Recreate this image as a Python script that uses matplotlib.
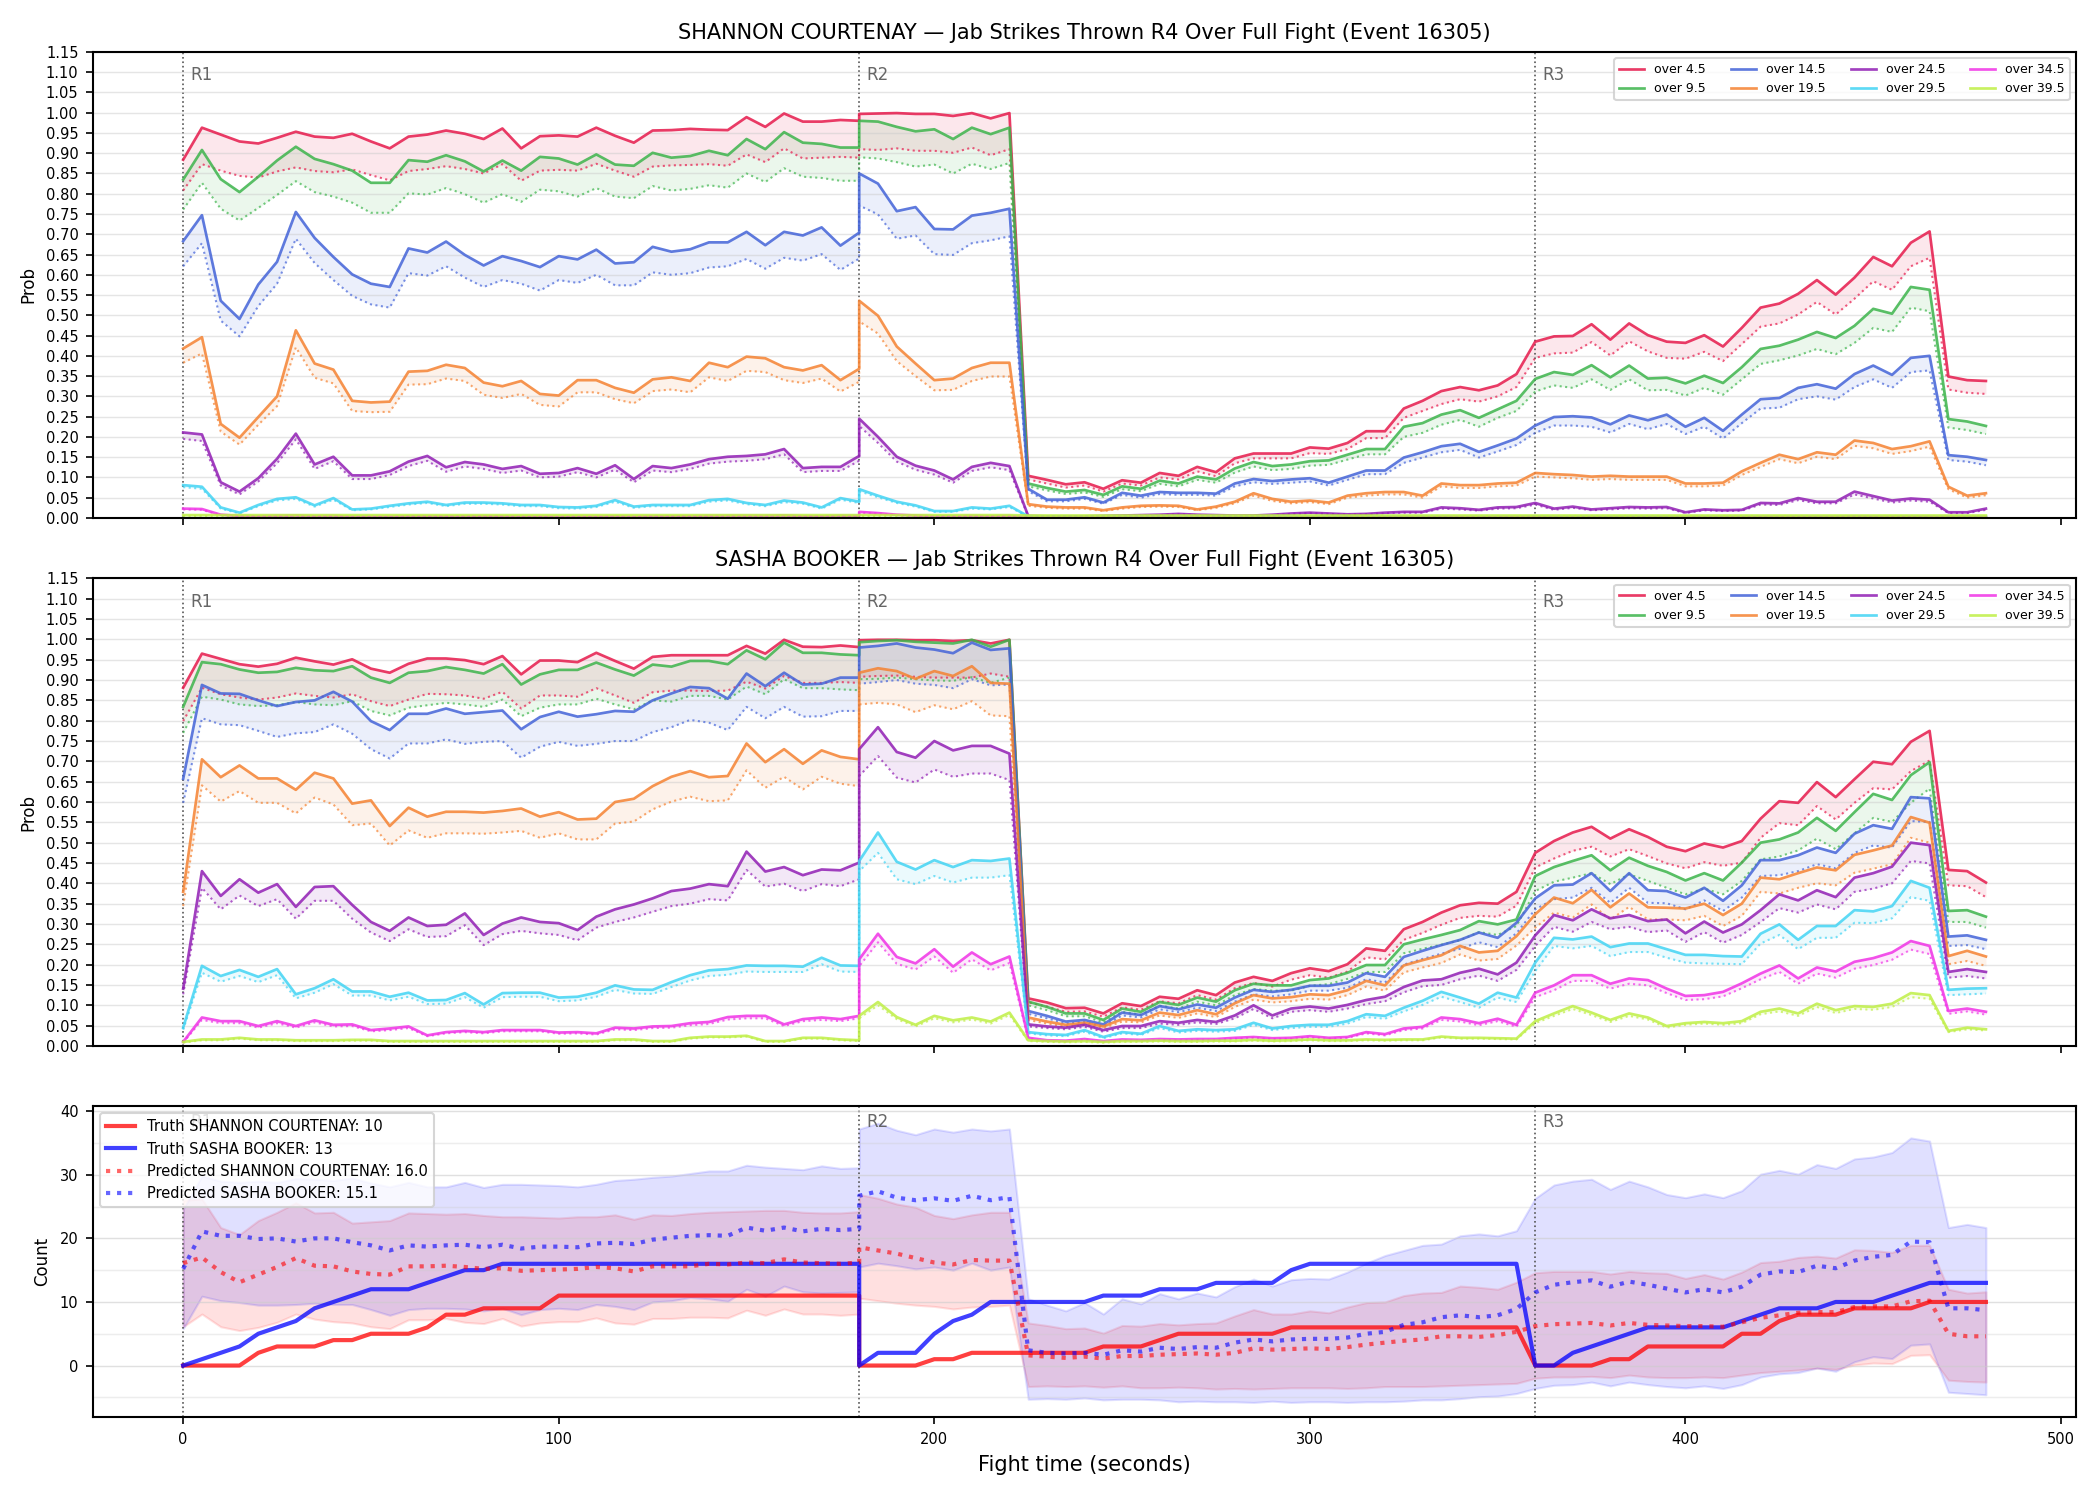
import numpy as np
import matplotlib
matplotlib.use("Agg")
import matplotlib.pyplot as plt
import matplotlib.transforms as mtransforms
from matplotlib.ticker import MultipleLocator

# snapshots every 5s: R1 0-180, R2 180-355, R3 360-480
t = np.concatenate([np.arange(0, 181, 5), np.arange(180, 356, 5), np.arange(360, 481, 5)])

line_labels = ["over 4.5", "over 9.5", "over 14.5", "over 19.5",
               "over 24.5", "over 29.5", "over 34.5", "over 39.5"]
line_colors = ["#e6194b", "#3cb44b", "#4363d8", "#f58231",
               "#911eb4", "#42d4f4", "#f032e6", "#bfef45"]
round_starts = [0, 180, 360]
round_labels = ["R1", "R2", "R3"]

# ---- SHANNON COURTENAY: live prob (solid) and baseline prob (dotted)
sc_45 = [0.884, 0.963, 0.946, 0.929, 0.924, 0.938, 0.953, 0.941, 0.938, 0.948, 0.929, 0.912, 0.941, 0.946, 0.956, 0.948, 0.935, 0.961, 0.912, 0.942, 0.944, 0.941, 0.963, 0.943, 0.926, 0.956, 0.957, 0.960, 0.958, 0.957, 0.989, 0.965, 0.998, 0.978, 0.978, 0.982, 0.980,
         0.997, 0.998, 0.999, 0.997, 0.997, 0.992, 0.999, 0.986, 0.999, 0.104, 0.094, 0.083, 0.088, 0.072, 0.093, 0.087, 0.111, 0.104, 0.126, 0.113, 0.147, 0.159, 0.159, 0.159, 0.174, 0.171, 0.185, 0.214, 0.214, 0.270, 0.289, 0.313, 0.323, 0.315, 0.327, 0.355,
         0.435, 0.448, 0.449, 0.478, 0.440, 0.480, 0.451, 0.435, 0.432, 0.451, 0.423, 0.469, 0.519, 0.529, 0.553, 0.587, 0.551, 0.593, 0.644, 0.621, 0.679, 0.707, 0.349, 0.340, 0.338]
sc_45_d = [0.808, 0.873, 0.857, 0.844, 0.840, 0.855, 0.865, 0.856, 0.853, 0.860, 0.846, 0.833, 0.856, 0.861, 0.868, 0.861, 0.850, 0.873, 0.832, 0.857, 0.859, 0.857, 0.874, 0.857, 0.842, 0.867, 0.870, 0.871, 0.873, 0.869, 0.897, 0.878, 0.912, 0.887, 0.889, 0.891, 0.889,
           0.910, 0.908, 0.912, 0.906, 0.906, 0.901, 0.914, 0.895, 0.910, 0.095, 0.085, 0.075, 0.080, 0.065, 0.085, 0.080, 0.100, 0.095, 0.115, 0.103, 0.135, 0.147, 0.147, 0.147, 0.160, 0.158, 0.170, 0.197, 0.197, 0.247, 0.264, 0.281, 0.293, 0.287, 0.300, 0.323,
           0.395, 0.406, 0.408, 0.434, 0.401, 0.436, 0.411, 0.395, 0.393, 0.410, 0.387, 0.429, 0.472, 0.480, 0.502, 0.533, 0.502, 0.541, 0.584, 0.563, 0.621, 0.642, 0.317, 0.309, 0.306]
sc_95 = [0.835, 0.908, 0.836, 0.804, 0.842, 0.882, 0.916, 0.886, 0.873, 0.857, 0.827, 0.827, 0.883, 0.879, 0.895, 0.880, 0.855, 0.882, 0.857, 0.891, 0.887, 0.872, 0.897, 0.872, 0.869, 0.901, 0.889, 0.893, 0.906, 0.895, 0.935, 0.910, 0.952, 0.926, 0.923, 0.914, 0.914,
         0.980, 0.978, 0.965, 0.954, 0.959, 0.935, 0.963, 0.947, 0.963, 0.085, 0.074, 0.065, 0.069, 0.057, 0.078, 0.072, 0.092, 0.085, 0.102, 0.095, 0.122, 0.138, 0.128, 0.132, 0.140, 0.142, 0.156, 0.170, 0.170, 0.225, 0.234, 0.255, 0.266, 0.247, 0.268, 0.289,
         0.343, 0.360, 0.353, 0.377, 0.347, 0.376, 0.344, 0.346, 0.332, 0.351, 0.333, 0.372, 0.417, 0.425, 0.440, 0.459, 0.444, 0.474, 0.516, 0.504, 0.570, 0.563, 0.244, 0.238, 0.227]
sc_95_d = [0.761, 0.827, 0.763, 0.734, 0.765, 0.797, 0.831, 0.804, 0.793, 0.778, 0.753, 0.753, 0.801, 0.798, 0.814, 0.799, 0.778, 0.799, 0.780, 0.810, 0.806, 0.793, 0.814, 0.793, 0.789, 0.819, 0.808, 0.812, 0.821, 0.815, 0.850, 0.829, 0.863, 0.842, 0.839, 0.832, 0.832,
           0.890, 0.887, 0.878, 0.867, 0.872, 0.850, 0.874, 0.861, 0.876, 0.078, 0.068, 0.059, 0.063, 0.052, 0.071, 0.066, 0.084, 0.078, 0.094, 0.087, 0.112, 0.127, 0.118, 0.121, 0.129, 0.131, 0.144, 0.157, 0.157, 0.200, 0.210, 0.230, 0.242, 0.225, 0.247, 0.264,
           0.312, 0.327, 0.321, 0.342, 0.316, 0.342, 0.315, 0.316, 0.302, 0.321, 0.304, 0.342, 0.380, 0.389, 0.401, 0.417, 0.404, 0.432, 0.469, 0.459, 0.519, 0.510, 0.223, 0.217, 0.207]
sc_145 = [0.683, 0.747, 0.536, 0.491, 0.576, 0.632, 0.755, 0.691, 0.644, 0.601, 0.578, 0.570, 0.665, 0.655, 0.682, 0.649, 0.623, 0.646, 0.634, 0.619, 0.646, 0.638, 0.662, 0.628, 0.631, 0.669, 0.657, 0.663, 0.680, 0.680, 0.706, 0.673, 0.706, 0.697, 0.717, 0.672, 0.704,
          0.850, 0.825, 0.757, 0.767, 0.713, 0.712, 0.746, 0.753, 0.763, 0.072, 0.045, 0.045, 0.051, 0.038, 0.062, 0.055, 0.064, 0.062, 0.062, 0.060, 0.085, 0.096, 0.091, 0.095, 0.098, 0.087, 0.102, 0.117, 0.117, 0.149, 0.162, 0.177, 0.183, 0.163, 0.179, 0.196,
          0.228, 0.249, 0.251, 0.248, 0.231, 0.253, 0.241, 0.255, 0.225, 0.247, 0.215, 0.255, 0.293, 0.296, 0.321, 0.330, 0.319, 0.355, 0.376, 0.353, 0.395, 0.400, 0.155, 0.151, 0.143]
sc_145_d = [0.621, 0.678, 0.487, 0.448, 0.523, 0.578, 0.689, 0.629, 0.587, 0.548, 0.527, 0.519, 0.604, 0.598, 0.621, 0.593, 0.570, 0.587, 0.578, 0.561, 0.587, 0.580, 0.600, 0.574, 0.574, 0.606, 0.600, 0.604, 0.618, 0.621, 0.639, 0.615, 0.642, 0.635, 0.651, 0.612, 0.640,
            0.771, 0.749, 0.689, 0.697, 0.651, 0.649, 0.678, 0.685, 0.695, 0.066, 0.041, 0.041, 0.047, 0.035, 0.057, 0.050, 0.059, 0.057, 0.057, 0.055, 0.078, 0.088, 0.084, 0.087, 0.090, 0.080, 0.094, 0.108, 0.108, 0.136, 0.149, 0.162, 0.168, 0.149, 0.164, 0.180,
            0.210, 0.228, 0.228, 0.225, 0.211, 0.232, 0.219, 0.232, 0.207, 0.225, 0.196, 0.234, 0.270, 0.272, 0.293, 0.300, 0.292, 0.323, 0.342, 0.321, 0.360, 0.364, 0.143, 0.139, 0.130]
sc_195 = [0.418, 0.446, 0.232, 0.198, 0.249, 0.300, 0.463, 0.381, 0.366, 0.289, 0.285, 0.287, 0.361, 0.363, 0.378, 0.370, 0.334, 0.325, 0.338, 0.306, 0.302, 0.340, 0.340, 0.321, 0.309, 0.342, 0.347, 0.338, 0.383, 0.372, 0.398, 0.394, 0.372, 0.364, 0.377, 0.340, 0.368,
          0.536, 0.499, 0.423, 0.381, 0.340, 0.344, 0.370, 0.383, 0.383, 0.034, 0.028, 0.026, 0.026, 0.019, 0.026, 0.030, 0.031, 0.030, 0.021, 0.028, 0.040, 0.061, 0.047, 0.040, 0.043, 0.038, 0.055, 0.061, 0.064, 0.064, 0.055, 0.085, 0.081, 0.081, 0.085, 0.087,
          0.111, 0.108, 0.106, 0.102, 0.104, 0.102, 0.102, 0.102, 0.085, 0.085, 0.087, 0.115, 0.136, 0.156, 0.145, 0.162, 0.156, 0.191, 0.185, 0.170, 0.177, 0.189, 0.077, 0.055, 0.061]
sc_195_d = [0.383, 0.406, 0.213, 0.181, 0.230, 0.276, 0.421, 0.346, 0.332, 0.264, 0.261, 0.262, 0.329, 0.330, 0.344, 0.338, 0.304, 0.296, 0.306, 0.279, 0.275, 0.310, 0.310, 0.293, 0.283, 0.313, 0.317, 0.310, 0.347, 0.338, 0.363, 0.360, 0.340, 0.333, 0.344, 0.312, 0.336,
            0.485, 0.455, 0.387, 0.350, 0.315, 0.316, 0.338, 0.349, 0.349, 0.030, 0.025, 0.023, 0.023, 0.017, 0.023, 0.027, 0.028, 0.027, 0.019, 0.025, 0.036, 0.055, 0.042, 0.036, 0.039, 0.034, 0.050, 0.055, 0.058, 0.058, 0.050, 0.078, 0.074, 0.074, 0.078, 0.080,
            0.102, 0.100, 0.098, 0.094, 0.096, 0.094, 0.094, 0.094, 0.078, 0.078, 0.080, 0.106, 0.126, 0.145, 0.135, 0.151, 0.145, 0.178, 0.172, 0.158, 0.165, 0.176, 0.071, 0.050, 0.056]
sc_245 = [0.211, 0.206, 0.088, 0.065, 0.098, 0.146, 0.208, 0.132, 0.151, 0.105, 0.105, 0.115, 0.139, 0.153, 0.125, 0.138, 0.132, 0.121, 0.128, 0.109, 0.111, 0.123, 0.109, 0.130, 0.096, 0.128, 0.123, 0.132, 0.145, 0.151, 0.153, 0.157, 0.170, 0.123, 0.126, 0.126, 0.153,
          0.245, 0.200, 0.151, 0.129, 0.117, 0.095, 0.126, 0.136, 0.128, 0.005, 0.004, 0.004, 0.004, 0.005, 0.006, 0.007, 0.008, 0.010, 0.008, 0.007, 0.006, 0.006, 0.008, 0.011, 0.013, 0.011, 0.009, 0.010, 0.013, 0.015, 0.015, 0.026, 0.024, 0.020, 0.026, 0.027,
          0.037, 0.023, 0.028, 0.021, 0.024, 0.027, 0.026, 0.027, 0.014, 0.021, 0.019, 0.020, 0.037, 0.036, 0.049, 0.040, 0.040, 0.065, 0.054, 0.043, 0.048, 0.045, 0.014, 0.014, 0.023]
sc_245_d = [0.195, 0.190, 0.080, 0.058, 0.090, 0.135, 0.194, 0.121, 0.140, 0.096, 0.096, 0.106, 0.128, 0.141, 0.114, 0.127, 0.121, 0.111, 0.117, 0.100, 0.102, 0.113, 0.100, 0.119, 0.088, 0.117, 0.113, 0.121, 0.134, 0.139, 0.141, 0.145, 0.157, 0.113, 0.116, 0.116, 0.141,
            0.227, 0.185, 0.139, 0.119, 0.107, 0.087, 0.116, 0.125, 0.118, 0.004, 0.003, 0.003, 0.003, 0.004, 0.005, 0.006, 0.007, 0.009, 0.007, 0.006, 0.005, 0.005, 0.007, 0.010, 0.012, 0.010, 0.008, 0.009, 0.012, 0.013, 0.013, 0.023, 0.021, 0.018, 0.023, 0.024,
            0.033, 0.020, 0.025, 0.019, 0.021, 0.024, 0.023, 0.024, 0.012, 0.019, 0.017, 0.018, 0.033, 0.032, 0.044, 0.036, 0.036, 0.058, 0.048, 0.038, 0.043, 0.040, 0.012, 0.012, 0.020]
sc_295 = [0.081, 0.077, 0.026, 0.013, 0.032, 0.047, 0.051, 0.031, 0.049, 0.021, 0.023, 0.030, 0.036, 0.040, 0.032, 0.038, 0.038, 0.036, 0.032, 0.032, 0.027, 0.026, 0.030, 0.044, 0.028, 0.032, 0.032, 0.032, 0.044, 0.047, 0.037, 0.032, 0.043, 0.038, 0.026, 0.049, 0.040,
          0.071, 0.055, 0.040, 0.031, 0.017, 0.017, 0.026, 0.023, 0.030, 0.004, 0.003, 0.003, 0.003, 0.003, 0.003, 0.003, 0.003, 0.003, 0.003, 0.003, 0.003, 0.003, 0.003, 0.003, 0.003, 0.003, 0.003, 0.003, 0.003, 0.003, 0.003, 0.003, 0.003, 0.003, 0.003, 0.003,
          0.004, 0.003, 0.003, 0.003, 0.003, 0.003, 0.003, 0.003, 0.003, 0.003, 0.003, 0.003, 0.003, 0.003, 0.003, 0.003, 0.003, 0.004, 0.003, 0.003, 0.003, 0.003, 0.003, 0.003, 0.003]
sc_295_d = [0.076, 0.072, 0.023, 0.011, 0.029, 0.043, 0.047, 0.028, 0.045, 0.019, 0.021, 0.027, 0.033, 0.037, 0.029, 0.035, 0.035, 0.033, 0.029, 0.029, 0.024, 0.023, 0.027, 0.040, 0.025, 0.029, 0.029, 0.029, 0.040, 0.043, 0.034, 0.029, 0.039, 0.035, 0.023, 0.045, 0.037,
            0.066, 0.051, 0.037, 0.028, 0.015, 0.015, 0.023, 0.021, 0.027, 0.003, 0.002, 0.002, 0.002, 0.002, 0.002, 0.002, 0.002, 0.002, 0.002, 0.002, 0.002, 0.002, 0.002, 0.002, 0.002, 0.002, 0.002, 0.002, 0.002, 0.002, 0.002, 0.002, 0.002, 0.002, 0.002, 0.002,
            0.003, 0.002, 0.002, 0.002, 0.002, 0.002, 0.002, 0.002, 0.002, 0.002, 0.002, 0.002, 0.002, 0.002, 0.002, 0.002, 0.002, 0.003, 0.002, 0.002, 0.002, 0.002, 0.002, 0.002, 0.002]
sc_345 = [0.023, 0.022, 0.008, 0.005, 0.004, 0.005, 0.006, 0.004, 0.005, 0.003, 0.003, 0.003, 0.004, 0.004, 0.004, 0.004, 0.004, 0.004, 0.003, 0.003, 0.003, 0.003, 0.003, 0.004, 0.003, 0.004, 0.004, 0.004, 0.005, 0.005, 0.005, 0.005, 0.006, 0.004, 0.004, 0.005, 0.005,
          0.015, 0.012, 0.008, 0.006, 0.004, 0.004, 0.005, 0.004, 0.005, 0.001, 0.001, 0.001, 0.001, 0.001, 0.001, 0.001, 0.001, 0.001, 0.001, 0.001, 0.001, 0.001, 0.001, 0.001, 0.001, 0.001, 0.001, 0.001, 0.001, 0.001, 0.001, 0.002, 0.002, 0.001, 0.002, 0.002,
          0.002, 0.001, 0.001, 0.001, 0.001, 0.001, 0.001, 0.001, 0.001, 0.001, 0.001, 0.001, 0.002, 0.002, 0.002, 0.002, 0.002, 0.003, 0.002, 0.002, 0.002, 0.002, 0.001, 0.001, 0.001]
sc_345_d = [0.021, 0.020, 0.007, 0.004, 0.003, 0.004, 0.005, 0.003, 0.004, 0.002, 0.002, 0.002, 0.003, 0.003, 0.003, 0.003, 0.003, 0.003, 0.002, 0.002, 0.002, 0.002, 0.002, 0.003, 0.002, 0.003, 0.003, 0.003, 0.004, 0.004, 0.004, 0.004, 0.005, 0.003, 0.003, 0.004, 0.004,
            0.013, 0.011, 0.007, 0.005, 0.003, 0.003, 0.004, 0.003, 0.004, 0.001, 0.001, 0.001, 0.001, 0.001, 0.001, 0.001, 0.001, 0.001, 0.001, 0.001, 0.001, 0.001, 0.001, 0.001, 0.001, 0.001, 0.001, 0.001, 0.001, 0.001, 0.001, 0.001, 0.001, 0.001, 0.001, 0.001,
            0.001, 0.001, 0.001, 0.001, 0.001, 0.001, 0.001, 0.001, 0.001, 0.001, 0.001, 0.001, 0.001, 0.001, 0.001, 0.001, 0.001, 0.002, 0.001, 0.001, 0.001, 0.001, 0.001, 0.001, 0.001]
sc_395 = [0.007] * 37 + [0.007] * 9 + [0.006] * 27 + [0.006] * 25
sc_395_d = [0.005] * 37 + [0.005] * 9 + [0.005] * 27 + [0.005] * 25

# ---- SASHA BOOKER
sb_45 = [0.881, 0.965, 0.952, 0.939, 0.933, 0.940, 0.955, 0.946, 0.938, 0.951, 0.928, 0.918, 0.940, 0.953, 0.953, 0.949, 0.939, 0.959, 0.914, 0.948, 0.948, 0.944, 0.967, 0.947, 0.928, 0.957, 0.961, 0.961, 0.961, 0.961, 0.984, 0.965, 0.999, 0.982, 0.981, 0.985, 0.981,
         0.998, 0.999, 0.999, 0.998, 0.998, 0.996, 0.998, 0.990, 0.999, 0.117, 0.107, 0.093, 0.094, 0.080, 0.105, 0.098, 0.121, 0.116, 0.137, 0.125, 0.156, 0.170, 0.160, 0.179, 0.191, 0.184, 0.201, 0.240, 0.234, 0.287, 0.305, 0.328, 0.346, 0.352, 0.350, 0.379,
         0.475, 0.504, 0.525, 0.539, 0.510, 0.533, 0.514, 0.490, 0.479, 0.498, 0.488, 0.504, 0.559, 0.602, 0.598, 0.649, 0.612, 0.656, 0.699, 0.693, 0.748, 0.775, 0.433, 0.430, 0.402]
sb_45_d = [0.799, 0.881, 0.865, 0.857, 0.852, 0.857, 0.867, 0.861, 0.857, 0.865, 0.848, 0.836, 0.852, 0.866, 0.865, 0.862, 0.854, 0.871, 0.830, 0.862, 0.862, 0.859, 0.880, 0.862, 0.844, 0.870, 0.874, 0.874, 0.873, 0.874, 0.896, 0.879, 0.910, 0.893, 0.893, 0.895, 0.893,
           0.908, 0.910, 0.911, 0.908, 0.906, 0.906, 0.906, 0.916, 0.908, 0.107, 0.097, 0.084, 0.085, 0.072, 0.095, 0.089, 0.110, 0.105, 0.125, 0.114, 0.142, 0.155, 0.146, 0.163, 0.174, 0.168, 0.183, 0.218, 0.213, 0.261, 0.278, 0.298, 0.315, 0.320, 0.318, 0.345,
           0.439, 0.461, 0.480, 0.490, 0.466, 0.484, 0.467, 0.449, 0.437, 0.452, 0.443, 0.451, 0.512, 0.548, 0.543, 0.590, 0.557, 0.598, 0.634, 0.631, 0.676, 0.702, 0.395, 0.393, 0.366]
sb_95 = [0.834, 0.944, 0.939, 0.926, 0.918, 0.920, 0.930, 0.924, 0.922, 0.934, 0.906, 0.893, 0.918, 0.922, 0.932, 0.925, 0.916, 0.939, 0.889, 0.914, 0.925, 0.925, 0.943, 0.926, 0.911, 0.938, 0.933, 0.947, 0.947, 0.939, 0.973, 0.951, 0.992, 0.967, 0.967, 0.963, 0.961,
         0.993, 0.996, 0.998, 0.994, 0.992, 0.990, 0.999, 0.982, 0.999, 0.109, 0.096, 0.080, 0.080, 0.064, 0.092, 0.084, 0.108, 0.101, 0.119, 0.109, 0.137, 0.153, 0.149, 0.149, 0.162, 0.166, 0.180, 0.199, 0.199, 0.250, 0.262, 0.273, 0.285, 0.307, 0.299, 0.311,
         0.418, 0.440, 0.455, 0.469, 0.432, 0.463, 0.443, 0.428, 0.407, 0.425, 0.407, 0.451, 0.500, 0.508, 0.525, 0.561, 0.529, 0.575, 0.620, 0.605, 0.666, 0.698, 0.332, 0.334, 0.318]
sb_95_d = [0.770, 0.859, 0.852, 0.840, 0.836, 0.838, 0.846, 0.840, 0.838, 0.848, 0.824, 0.813, 0.832, 0.838, 0.844, 0.840, 0.834, 0.852, 0.811, 0.832, 0.840, 0.840, 0.854, 0.840, 0.828, 0.850, 0.847, 0.861, 0.861, 0.852, 0.884, 0.865, 0.902, 0.880, 0.880, 0.877, 0.875,
           0.902, 0.903, 0.906, 0.902, 0.899, 0.898, 0.907, 0.893, 0.906, 0.100, 0.088, 0.073, 0.073, 0.058, 0.084, 0.077, 0.099, 0.092, 0.109, 0.100, 0.125, 0.140, 0.136, 0.136, 0.148, 0.152, 0.165, 0.182, 0.182, 0.228, 0.239, 0.249, 0.260, 0.280, 0.273, 0.295,
           0.381, 0.404, 0.414, 0.425, 0.398, 0.422, 0.406, 0.389, 0.373, 0.387, 0.373, 0.406, 0.459, 0.466, 0.481, 0.510, 0.484, 0.523, 0.561, 0.551, 0.598, 0.633, 0.305, 0.305, 0.291]
sb_145 = [0.657, 0.888, 0.867, 0.866, 0.850, 0.836, 0.846, 0.850, 0.871, 0.847, 0.799, 0.777, 0.817, 0.817, 0.830, 0.817, 0.821, 0.825, 0.779, 0.809, 0.822, 0.810, 0.816, 0.824, 0.822, 0.850, 0.867, 0.883, 0.880, 0.854, 0.916, 0.885, 0.918, 0.889, 0.891, 0.906, 0.906,
          0.980, 0.984, 0.990, 0.980, 0.975, 0.966, 0.992, 0.974, 0.978, 0.086, 0.074, 0.060, 0.064, 0.053, 0.082, 0.076, 0.098, 0.090, 0.102, 0.094, 0.119, 0.138, 0.133, 0.138, 0.148, 0.148, 0.156, 0.179, 0.170, 0.219, 0.234, 0.248, 0.261, 0.279, 0.266, 0.303,
          0.363, 0.395, 0.397, 0.425, 0.381, 0.425, 0.383, 0.381, 0.365, 0.389, 0.357, 0.395, 0.457, 0.457, 0.469, 0.488, 0.475, 0.522, 0.543, 0.534, 0.612, 0.609, 0.269, 0.272, 0.261]
sb_145_d = [0.598, 0.806, 0.791, 0.789, 0.775, 0.760, 0.769, 0.772, 0.791, 0.768, 0.730, 0.707, 0.744, 0.744, 0.754, 0.743, 0.748, 0.750, 0.709, 0.736, 0.748, 0.738, 0.743, 0.750, 0.750, 0.772, 0.784, 0.802, 0.795, 0.777, 0.834, 0.806, 0.834, 0.810, 0.811, 0.824, 0.824,
            0.891, 0.895, 0.900, 0.891, 0.888, 0.880, 0.902, 0.887, 0.889, 0.079, 0.068, 0.055, 0.059, 0.048, 0.075, 0.070, 0.090, 0.083, 0.094, 0.086, 0.109, 0.127, 0.122, 0.127, 0.136, 0.136, 0.143, 0.164, 0.156, 0.200, 0.214, 0.227, 0.239, 0.255, 0.243, 0.277,
            0.336, 0.361, 0.365, 0.389, 0.352, 0.389, 0.352, 0.351, 0.336, 0.358, 0.332, 0.365, 0.418, 0.420, 0.430, 0.447, 0.437, 0.475, 0.493, 0.488, 0.553, 0.551, 0.246, 0.248, 0.238]
sb_195 = [0.379, 0.705, 0.661, 0.690, 0.658, 0.658, 0.630, 0.672, 0.658, 0.596, 0.604, 0.541, 0.586, 0.564, 0.576, 0.576, 0.574, 0.578, 0.584, 0.564, 0.575, 0.557, 0.559, 0.600, 0.608, 0.639, 0.662, 0.676, 0.661, 0.664, 0.744, 0.698, 0.730, 0.694, 0.727, 0.711, 0.705,
          0.918, 0.929, 0.922, 0.903, 0.922, 0.910, 0.934, 0.893, 0.891, 0.070, 0.060, 0.052, 0.057, 0.048, 0.066, 0.063, 0.082, 0.076, 0.088, 0.078, 0.105, 0.125, 0.117, 0.120, 0.127, 0.125, 0.137, 0.160, 0.149, 0.198, 0.211, 0.223, 0.246, 0.230, 0.234, 0.270,
          0.324, 0.365, 0.351, 0.384, 0.341, 0.375, 0.341, 0.340, 0.338, 0.350, 0.322, 0.350, 0.414, 0.410, 0.425, 0.439, 0.432, 0.470, 0.481, 0.493, 0.563, 0.549, 0.221, 0.234, 0.220]
sb_195_d = [0.344, 0.641, 0.601, 0.627, 0.598, 0.598, 0.572, 0.611, 0.594, 0.543, 0.547, 0.493, 0.530, 0.512, 0.523, 0.523, 0.522, 0.525, 0.529, 0.512, 0.523, 0.508, 0.508, 0.547, 0.552, 0.582, 0.601, 0.613, 0.602, 0.604, 0.678, 0.635, 0.662, 0.631, 0.662, 0.645, 0.639,
            0.840, 0.844, 0.840, 0.821, 0.838, 0.828, 0.848, 0.813, 0.811, 0.064, 0.055, 0.048, 0.052, 0.044, 0.060, 0.058, 0.075, 0.069, 0.080, 0.071, 0.096, 0.114, 0.107, 0.110, 0.116, 0.114, 0.125, 0.146, 0.136, 0.181, 0.193, 0.204, 0.225, 0.210, 0.214, 0.247,
            0.291, 0.328, 0.316, 0.348, 0.311, 0.342, 0.311, 0.311, 0.309, 0.320, 0.295, 0.320, 0.379, 0.375, 0.389, 0.400, 0.395, 0.426, 0.436, 0.447, 0.512, 0.500, 0.201, 0.209, 0.197]
sb_245 = [0.141, 0.430, 0.369, 0.410, 0.377, 0.398, 0.342, 0.391, 0.393, 0.347, 0.305, 0.283, 0.316, 0.295, 0.298, 0.326, 0.273, 0.301, 0.316, 0.305, 0.302, 0.285, 0.318, 0.336, 0.348, 0.363, 0.381, 0.387, 0.398, 0.393, 0.478, 0.429, 0.440, 0.420, 0.434, 0.432, 0.451,
          0.730, 0.784, 0.723, 0.709, 0.750, 0.727, 0.738, 0.738, 0.719, 0.053, 0.048, 0.045, 0.052, 0.039, 0.049, 0.049, 0.061, 0.057, 0.064, 0.059, 0.075, 0.100, 0.075, 0.092, 0.097, 0.092, 0.101, 0.113, 0.121, 0.145, 0.161, 0.164, 0.180, 0.190, 0.176, 0.205,
          0.272, 0.322, 0.309, 0.336, 0.314, 0.322, 0.307, 0.311, 0.277, 0.306, 0.279, 0.299, 0.334, 0.373, 0.358, 0.383, 0.366, 0.414, 0.425, 0.441, 0.500, 0.494, 0.182, 0.189, 0.182]
sb_245_d = [0.127, 0.389, 0.336, 0.370, 0.344, 0.361, 0.313, 0.357, 0.357, 0.313, 0.279, 0.258, 0.287, 0.268, 0.270, 0.297, 0.248, 0.275, 0.283, 0.277, 0.273, 0.260, 0.291, 0.305, 0.316, 0.330, 0.344, 0.350, 0.361, 0.358, 0.433, 0.392, 0.399, 0.381, 0.398, 0.393, 0.410,
            0.664, 0.713, 0.660, 0.648, 0.680, 0.662, 0.670, 0.670, 0.654, 0.048, 0.044, 0.041, 0.047, 0.035, 0.044, 0.044, 0.055, 0.052, 0.058, 0.054, 0.068, 0.091, 0.068, 0.084, 0.088, 0.084, 0.092, 0.103, 0.110, 0.132, 0.147, 0.150, 0.164, 0.173, 0.160, 0.187,
            0.246, 0.293, 0.281, 0.305, 0.287, 0.293, 0.280, 0.284, 0.256, 0.280, 0.254, 0.273, 0.305, 0.339, 0.328, 0.348, 0.336, 0.379, 0.387, 0.400, 0.455, 0.449, 0.168, 0.172, 0.166]
sb_295 = [0.045, 0.197, 0.172, 0.187, 0.170, 0.189, 0.127, 0.142, 0.164, 0.134, 0.134, 0.121, 0.131, 0.112, 0.113, 0.130, 0.102, 0.130, 0.131, 0.131, 0.119, 0.121, 0.131, 0.149, 0.139, 0.138, 0.157, 0.174, 0.186, 0.189, 0.198, 0.197, 0.197, 0.195, 0.217, 0.198, 0.197,
          0.455, 0.525, 0.453, 0.434, 0.457, 0.440, 0.457, 0.455, 0.461, 0.034, 0.029, 0.027, 0.039, 0.022, 0.034, 0.030, 0.049, 0.037, 0.041, 0.039, 0.041, 0.057, 0.043, 0.049, 0.052, 0.052, 0.061, 0.078, 0.074, 0.094, 0.111, 0.133, 0.119, 0.104, 0.131, 0.119,
          0.205, 0.266, 0.262, 0.269, 0.243, 0.252, 0.252, 0.238, 0.224, 0.224, 0.221, 0.220, 0.276, 0.299, 0.261, 0.295, 0.295, 0.334, 0.331, 0.344, 0.406, 0.389, 0.138, 0.141, 0.142]
sb_295_d = [0.040, 0.180, 0.158, 0.172, 0.157, 0.174, 0.117, 0.131, 0.152, 0.124, 0.124, 0.112, 0.121, 0.103, 0.104, 0.120, 0.094, 0.120, 0.121, 0.121, 0.110, 0.112, 0.121, 0.138, 0.129, 0.128, 0.145, 0.161, 0.172, 0.175, 0.183, 0.182, 0.182, 0.182, 0.201, 0.183, 0.182,
            0.430, 0.475, 0.410, 0.398, 0.418, 0.402, 0.414, 0.414, 0.420, 0.031, 0.026, 0.024, 0.035, 0.019, 0.031, 0.027, 0.044, 0.033, 0.037, 0.035, 0.037, 0.052, 0.039, 0.044, 0.047, 0.047, 0.055, 0.071, 0.067, 0.085, 0.101, 0.121, 0.108, 0.094, 0.119, 0.108,
            0.184, 0.246, 0.240, 0.246, 0.221, 0.231, 0.231, 0.217, 0.205, 0.203, 0.202, 0.201, 0.252, 0.273, 0.238, 0.266, 0.266, 0.303, 0.302, 0.314, 0.366, 0.357, 0.125, 0.127, 0.129]
sb_345 = [0.010, 0.070, 0.061, 0.061, 0.049, 0.061, 0.049, 0.063, 0.052, 0.053, 0.039, 0.043, 0.048, 0.026, 0.034, 0.037, 0.034, 0.039, 0.039, 0.039, 0.033, 0.034, 0.031, 0.045, 0.043, 0.048, 0.049, 0.056, 0.059, 0.071, 0.074, 0.074, 0.053, 0.066, 0.070, 0.066, 0.074,
          0.213, 0.276, 0.219, 0.203, 0.238, 0.195, 0.230, 0.201, 0.220, 0.020, 0.014, 0.013, 0.017, 0.012, 0.016, 0.015, 0.017, 0.016, 0.017, 0.017, 0.020, 0.022, 0.019, 0.020, 0.024, 0.020, 0.022, 0.034, 0.029, 0.043, 0.047, 0.070, 0.066, 0.056, 0.067, 0.052,
          0.131, 0.149, 0.174, 0.174, 0.153, 0.166, 0.162, 0.141, 0.123, 0.125, 0.133, 0.154, 0.178, 0.198, 0.166, 0.193, 0.183, 0.207, 0.216, 0.230, 0.258, 0.246, 0.086, 0.092, 0.084]
sb_345_d = [0.008, 0.064, 0.056, 0.056, 0.045, 0.056, 0.045, 0.058, 0.048, 0.049, 0.036, 0.039, 0.044, 0.024, 0.031, 0.034, 0.031, 0.036, 0.036, 0.036, 0.030, 0.031, 0.028, 0.041, 0.039, 0.044, 0.045, 0.051, 0.054, 0.065, 0.068, 0.068, 0.049, 0.061, 0.064, 0.061, 0.068,
            0.196, 0.255, 0.202, 0.188, 0.220, 0.180, 0.213, 0.186, 0.204, 0.018, 0.012, 0.011, 0.015, 0.010, 0.014, 0.013, 0.015, 0.014, 0.015, 0.015, 0.018, 0.020, 0.017, 0.018, 0.021, 0.018, 0.020, 0.031, 0.026, 0.039, 0.043, 0.064, 0.060, 0.051, 0.061, 0.047,
            0.120, 0.137, 0.160, 0.160, 0.141, 0.153, 0.149, 0.130, 0.113, 0.115, 0.122, 0.142, 0.164, 0.182, 0.153, 0.178, 0.168, 0.190, 0.199, 0.212, 0.237, 0.226, 0.079, 0.085, 0.077]
sb_395 = [0.010, 0.016, 0.016, 0.020, 0.016, 0.016, 0.014, 0.014, 0.014, 0.015, 0.015, 0.012, 0.012, 0.012, 0.012, 0.012, 0.012, 0.012, 0.012, 0.012, 0.012, 0.012, 0.012, 0.016, 0.016, 0.012, 0.012, 0.020, 0.023, 0.023, 0.025, 0.012, 0.012, 0.020, 0.020, 0.016, 0.014,
          0.074, 0.108, 0.071, 0.052, 0.074, 0.063, 0.070, 0.060, 0.082, 0.014, 0.012, 0.011, 0.012, 0.010, 0.012, 0.012, 0.013, 0.012, 0.012, 0.013, 0.013, 0.015, 0.013, 0.014, 0.016, 0.014, 0.014, 0.016, 0.015, 0.016, 0.016, 0.023, 0.020, 0.020, 0.019, 0.018,
          0.061, 0.080, 0.098, 0.082, 0.064, 0.080, 0.070, 0.049, 0.056, 0.059, 0.056, 0.061, 0.084, 0.092, 0.080, 0.104, 0.088, 0.098, 0.096, 0.104, 0.130, 0.125, 0.037, 0.045, 0.041]
sb_395_d = [0.008, 0.014, 0.014, 0.018, 0.014, 0.014, 0.012, 0.012, 0.012, 0.013, 0.013, 0.010, 0.010, 0.010, 0.010, 0.010, 0.010, 0.010, 0.010, 0.010, 0.010, 0.010, 0.010, 0.014, 0.014, 0.010, 0.010, 0.018, 0.021, 0.021, 0.023, 0.010, 0.010, 0.018, 0.018, 0.014, 0.012,
            0.068, 0.100, 0.066, 0.048, 0.068, 0.058, 0.065, 0.055, 0.076, 0.012, 0.010, 0.009, 0.010, 0.008, 0.010, 0.010, 0.011, 0.010, 0.010, 0.011, 0.011, 0.013, 0.011, 0.012, 0.014, 0.012, 0.012, 0.014, 0.013, 0.014, 0.014, 0.021, 0.018, 0.018, 0.017, 0.016,
            0.056, 0.074, 0.091, 0.076, 0.059, 0.074, 0.065, 0.045, 0.052, 0.055, 0.052, 0.056, 0.078, 0.085, 0.074, 0.096, 0.081, 0.091, 0.089, 0.096, 0.120, 0.116, 0.034, 0.041, 0.038]

# ---- cumulative jab counts: truth, predicted mean and band
sc_truth = [0, 0, 0, 0, 2, 3, 3, 3, 4, 4, 5, 5, 5, 6, 8, 8, 9, 9, 9, 9, 11, 11, 11, 11, 11, 11, 11, 11, 11, 11, 11, 11, 11, 11, 11, 11, 11,
            0, 0, 0, 0, 1, 1, 2, 2, 2, 2, 2, 2, 2, 3, 3, 3, 4, 5, 5, 5, 5, 5, 5, 6, 6, 6, 6, 6, 6, 6, 6, 6, 6, 6, 6, 6,
            0, 0, 0, 0, 1, 1, 3, 3, 3, 3, 3, 5, 5, 7, 8, 8, 8, 9, 9, 9, 9, 10, 10, 10, 10]
sb_truth = [0, 1, 2, 3, 5, 6, 7, 9, 10, 11, 12, 12, 12, 13, 14, 15, 15, 16, 16, 16, 16, 16, 16, 16, 16, 16, 16, 16, 16, 16, 16, 16, 16, 16, 16, 16, 16,
            0, 2, 2, 2, 5, 7, 8, 10, 10, 10, 10, 10, 10, 11, 11, 11, 12, 12, 12, 13, 13, 13, 13, 15, 16, 16, 16, 16, 16, 16, 16, 16, 16, 16, 16, 16,
            0, 0, 2, 3, 4, 5, 6, 6, 6, 6, 6, 7, 8, 9, 9, 9, 10, 10, 10, 11, 12, 13, 13, 13, 13]
sc_pred = [16.1, 17.0, 14.7, 13.1, 14.3, 15.5, 16.9, 15.7, 15.6, 14.8, 14.4, 14.3, 15.6, 15.6, 15.7, 15.5, 15.2, 15.3, 14.9, 15.0, 15.1, 15.2, 15.5, 15.3, 14.8, 15.6, 15.6, 15.6, 16.0, 15.9, 16.2, 16.1, 16.7, 16.2, 16.1, 16.0, 16.2,
           18.6, 18.1, 17.6, 16.9, 16.2, 15.9, 16.6, 16.5, 16.5, 1.6, 1.4, 1.2, 1.4, 1.1, 1.5, 1.5, 1.7, 1.8, 1.9, 1.7, 2.0, 2.7, 2.5, 2.6, 2.7, 2.6, 2.9, 3.3, 3.6, 3.9, 4.1, 4.6, 4.6, 4.5, 4.8, 5.3,
           6.2, 6.5, 6.6, 6.7, 6.3, 6.7, 6.4, 6.3, 6.2, 6.2, 6.1, 6.8, 7.5, 7.9, 8.3, 8.4, 8.4, 9.2, 9.3, 9.3, 10.1, 10.2, 5.0, 4.6, 4.6]
sb_pred = [15.2, 21.1, 20.4, 20.4, 19.9, 20.0, 19.5, 20.0, 20.0, 19.4, 18.9, 18.1, 18.9, 18.7, 18.9, 19.0, 18.6, 19.0, 18.4, 18.7, 18.7, 18.6, 19.2, 19.3, 19.1, 19.8, 20.1, 20.4, 20.5, 20.4, 21.7, 21.2, 21.7, 21.1, 21.5, 21.3, 21.5,
           26.7, 27.4, 26.4, 26.0, 26.3, 25.9, 26.7, 26.0, 26.5, 2.4, 2.0, 1.9, 2.0, 1.7, 2.4, 2.2, 2.8, 2.6, 2.9, 2.8, 3.6, 4.1, 3.8, 4.1, 4.2, 4.2, 4.4, 5.0, 5.3, 6.4, 6.8, 7.6, 7.9, 7.6, 7.9, 8.9,
           11.5, 12.7, 13.1, 13.4, 12.4, 13.2, 12.7, 12.1, 11.5, 12.0, 11.5, 12.4, 14.3, 14.8, 14.7, 15.7, 15.3, 16.5, 17.1, 17.4, 19.5, 19.4, 9.0, 9.0, 8.7]
sc_lo = [6.1, 8.1, 6.1, 5.5, 6.0, 6.8, 8.1, 7.3, 6.9, 6.7, 6.1, 5.8, 7.2, 7.2, 7.4, 6.8, 6.6, 7.4, 6.2, 6.7, 6.9, 6.9, 7.5, 6.7, 6.5, 7.4, 7.4, 7.6, 7.6, 7.5, 8.7, 7.9, 8.9, 8.1, 8.1, 7.9, 8.1,
         10.6, 10.2, 9.8, 9.5, 9.3, 8.9, 9.2, 9.3, 9.5, -3.3, -3.2, -3.3, -3.2, -3.4, -3.2, -3.5, -3.5, -3.4, -3.5, -3.7, -3.6, -3.7, -3.6, -3.5, -3.5, -3.5, -3.6, -3.5, -3.3, -3.3, -3.3, -3.2, -3.1, -3.0, -2.9, -2.8,
         -2.0, -1.8, -1.8, -1.7, -1.9, -1.5, -1.8, -1.9, -1.9, -1.8, -1.9, -1.5, -1.1, -0.9, -0.7, -0.4, -0.6, 0.1, 0.4, 0.3, 1.6, 1.7, -2.3, -2.5, -2.6]
sc_hi = [26.0, 26.2, 21.7, 20.6, 22.8, 24.1, 25.6, 24.0, 24.1, 22.4, 22.6, 22.8, 24.0, 23.9, 23.8, 23.9, 23.6, 23.4, 23.4, 23.3, 23.2, 23.4, 23.4, 23.7, 23.0, 23.7, 23.6, 23.9, 24.1, 24.2, 24.3, 24.4, 24.4, 24.1, 24.0, 24.0, 24.2,
         26.9, 26.3, 25.4, 24.9, 23.6, 23.1, 23.7, 24.1, 24.1, 6.7, 6.3, 5.8, 5.9, 5.1, 6.3, 6.2, 6.6, 6.4, 6.6, 6.7, 7.8, 8.8, 8.1, 8.1, 8.6, 8.3, 9.2, 9.9, 10.0, 11.0, 11.4, 11.5, 12.5, 12.3, 12.0, 13.1,
         14.6, 14.8, 14.8, 14.8, 14.4, 14.8, 14.6, 14.5, 13.7, 14.3, 13.6, 14.7, 16.2, 16.4, 17.0, 17.2, 16.9, 18.2, 18.1, 17.8, 18.9, 18.9, 12.0, 11.4, 11.6]
sb_lo = [5.8, 10.9, 10.2, 9.9, 9.5, 9.5, 9.6, 9.8, 9.6, 9.6, 8.8, 7.9, 8.8, 9.0, 9.0, 8.9, 8.6, 9.0, 8.0, 8.8, 9.0, 8.8, 9.6, 9.3, 8.8, 10.0, 10.2, 10.7, 10.5, 10.1, 12.0, 10.9, 12.5, 11.6, 11.4, 11.5, 11.6,
         15.5, 16.1, 15.7, 15.2, 15.5, 15.0, 16.1, 15.0, 15.5, -5.3, -5.2, -5.3, -5.1, -5.4, -5.3, -5.3, -5.4, -5.7, -5.6, -5.7, -5.7, -5.8, -5.6, -5.8, -5.7, -5.7, -5.8, -5.7, -5.7, -5.6, -5.4, -5.4, -5.2, -4.9, -4.8, -4.4,
         -3.6, -3.1, -3.0, -2.6, -3.2, -2.6, -3.0, -3.3, -3.5, -3.2, -3.6, -3.0, -1.8, -1.3, -1.1, -0.4, -0.9, 0.6, 1.4, 1.1, 3.2, 3.4, -4.2, -4.4, -4.6]
sb_hi = [24.6, 29.8, 29.0, 28.8, 29.0, 28.8, 29.4, 29.3, 29.1, 29.5, 28.7, 28.1, 28.8, 28.1, 28.1, 28.8, 28.0, 28.5, 28.5, 28.4, 28.3, 28.1, 28.5, 29.1, 29.3, 29.6, 29.8, 30.2, 30.6, 30.6, 31.5, 31.2, 31.0, 30.8, 31.4, 31.0, 31.1,
         37.2, 38.1, 37.0, 36.3, 37.2, 36.7, 37.2, 36.9, 37.2, 10.5, 9.5, 8.6, 9.9, 8.1, 10.5, 9.7, 11.3, 10.5, 11.4, 10.8, 12.4, 13.6, 12.5, 13.5, 13.7, 13.6, 14.7, 16.1, 17.3, 18.1, 18.9, 19.1, 20.4, 20.7, 20.4, 21.2,
         26.3, 28.4, 29.0, 29.3, 27.7, 29.0, 28.1, 26.9, 26.4, 27.0, 26.4, 27.5, 30.1, 30.7, 30.1, 31.6, 31.0, 32.5, 32.8, 33.5, 35.8, 35.3, 21.7, 22.2, 21.7]

sc_solid = [sc_45, sc_95, sc_145, sc_195, sc_245, sc_295, sc_345, sc_395]
sc_dots = [sc_45_d, sc_95_d, sc_145_d, sc_195_d, sc_245_d, sc_295_d, sc_345_d, sc_395_d]
sb_solid = [sb_45, sb_95, sb_145, sb_195, sb_245, sb_295, sb_345, sb_395]
sb_dots = [sb_45_d, sb_95_d, sb_145_d, sb_195_d, sb_245_d, sb_295_d, sb_345_d, sb_395_d]


def mark_rounds(ax):
    trans = mtransforms.blended_transform_factory(ax.transData, ax.transAxes)
    for x0, lab in zip(round_starts, round_labels):
        ax.axvline(x0, color="#555555", ls=":", lw=0.8, zorder=1)
        ax.text(x0 + 2, 0.95, lab, transform=trans, fontsize=8,
                color="#666666", va="center", ha="left")


def prob_panel(ax, solids, dots, title):
    for lab, col, s, d in zip(line_labels, line_colors, solids, dots):
        ax.fill_between(t, d, s, color=col, alpha=0.1, lw=0)
        ax.plot(t, d, color=col, lw=1.0, ls=":", alpha=0.7)
        ax.plot(t, s, color=col, lw=1.3, alpha=0.85, label=lab)
    ax.set_ylim(0, 1.15)
    ax.yaxis.set_major_locator(MultipleLocator(0.05))
    ax.grid(axis="y", color="#cccccc", alpha=0.5, lw=0.7)
    ax.set_ylabel("Prob", fontsize=8)
    ax.set_title(title, fontsize=10)
    ax.tick_params(labelsize=7, labelbottom=False)
    ax.legend(loc="upper right", ncol=4, fontsize=6)
    mark_rounds(ax)


fig = plt.figure(figsize=(14, 10))
ax3 = fig.add_axes([0.0443, 0.0553, 0.9443, 0.2073])
ax1 = fig.add_axes([0.0443, 0.6547, 0.9443, 0.3107], sharex=ax3)
ax2 = fig.add_axes([0.0443, 0.3027, 0.9443, 0.3117], sharex=ax3)

prob_panel(ax1, sc_solid, sc_dots,
           "SHANNON COURTENAY \u2014 Jab Strikes Thrown R4 Over Full Fight (Event 16305)")
prob_panel(ax2, sb_solid, sb_dots,
           "SASHA BOOKER \u2014 Jab Strikes Thrown R4 Over Full Fight (Event 16305)")

ax3.fill_between(t, sc_lo, sc_hi, color="red", alpha=0.12)
ax3.fill_between(t, sb_lo, sb_hi, color="blue", alpha=0.12)
ax3.plot(t, sc_truth, color="red", lw=2, alpha=0.75, label="Truth SHANNON COURTENAY: 10")
ax3.plot(t, sb_truth, color="blue", lw=2, alpha=0.75, label="Truth SASHA BOOKER: 13")
ax3.plot(t, sc_pred, color="red", lw=2, ls=":", alpha=0.6, label="Predicted SHANNON COURTENAY: 16.0")
ax3.plot(t, sb_pred, color="blue", lw=2, ls=":", alpha=0.6, label="Predicted SASHA BOOKER: 15.1")
ax3.set_ylim(-8.1, 40.8)
ax3.yaxis.set_major_locator(MultipleLocator(10))
ax3.yaxis.set_minor_locator(MultipleLocator(5))
ax3.grid(axis="y", which="major", color="#cccccc", alpha=0.6, lw=0.7)
ax3.grid(axis="y", which="minor", color="#cccccc", alpha=0.35, lw=0.7)
ax3.tick_params(axis="y", which="minor", length=0)
ax3.set_ylabel("Count", fontsize=8)
ax3.set_xlabel("Fight time (seconds)", fontsize=10)
ax3.tick_params(labelsize=7)
mark_rounds(ax3)
ax3.legend(loc="upper left", fontsize=7)

for ax in (ax1, ax2, ax3):
    for sp in ax.spines.values():
        sp.set_linewidth(1.0)

fig.savefig("out.png", dpi=150)
